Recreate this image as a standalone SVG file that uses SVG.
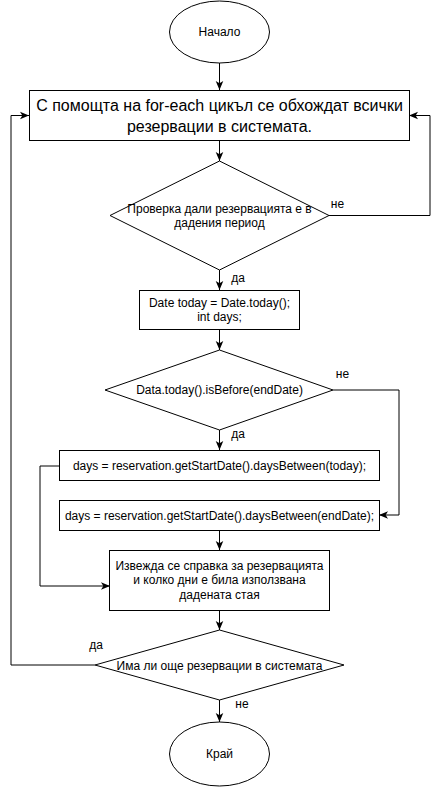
<svg xmlns="http://www.w3.org/2000/svg" width="440" height="788" viewBox="0 0 440 788">
<style>
.s{fill:#fff;stroke:#000;stroke-width:1}
.t{font-family:"Liberation Sans",Arial,sans-serif;font-size:12px;fill:#000;text-anchor:middle;dominant-baseline:central}
.big{font-size:16px}
.c{fill:none;stroke:#000;stroke-width:1}
</style>
<defs>
<marker id="a" viewBox="0 0 10 10" refX="10" refY="5" markerWidth="9" markerHeight="9" markerUnits="userSpaceOnUse" orient="auto">
<path d="M0,0.8 L10,5 L0,9.2 L2.6,5 Z" fill="#000"/>
</marker>
</defs>
<g id="connectors">
<path class="c" d="M219.5,63 V90" marker-end="url(#a)"/>
<path class="c" d="M219.5,141 V161" marker-end="url(#a)"/>
<path class="c" d="M219.5,270 V290" marker-end="url(#a)"/>
<path class="c" d="M219.5,330 V350" marker-end="url(#a)"/>
<path class="c" d="M219.5,430 V450" marker-end="url(#a)"/>
<path class="c" d="M219.5,530 V550" marker-end="url(#a)"/>
<path class="c" d="M219.5,610 V630" marker-end="url(#a)"/>
<path class="c" d="M219.5,700 V722" marker-end="url(#a)"/>
<path class="c" d="M329,215.5 H430 V115.5 H409" marker-end="url(#a)"/>
<path class="c" d="M333,390 H399 V515 H379" marker-end="url(#a)"/>
<path class="c" d="M59,466 H40 V586 H110" marker-end="url(#a)"/>
<path class="c" d="M95,665 H11 V115.5 H29" marker-end="url(#a)"/>
<text class="t" x="337.5" y="204">не</text>
<text class="t" x="238" y="278">да</text>
<text class="t" x="342.5" y="374">не</text>
<text class="t" x="238" y="434">да</text>
<text class="t" x="96" y="645">да</text>
<text class="t" x="242" y="704">не</text>
</g>
<g id="start">
<ellipse class="s" cx="219.5" cy="32" rx="50" ry="31"/>
<text class="t" x="219.5" y="32">Начало</text>
</g>
<g id="loop">
<rect class="s" x="29.5" y="90.5" width="380" height="50"/>
<text class="t big" x="219.5" y="105">С помощта на for-each цикъл се обхождат всички</text>
<text class="t big" x="219.5" y="126.5">резервации в системата.</text>
</g>
<g id="check-period">
<path class="s" d="M219.5,161 L329,215.5 L219.5,270 L110,215.5 Z"/>
<text class="t" x="219.5" y="208.5">Проверка дали резервацията е в</text>
<text class="t" x="219.5" y="223">дадения период</text>
</g>
<g id="init">
<rect class="s" x="139.5" y="290.5" width="160" height="39"/>
<text class="t" x="219.5" y="303">Date today = Date.today();</text>
<text class="t" x="219.5" y="317">int days;</text>
</g>
<g id="is-before">
<path class="s" d="M219.5,350 L333,390 L219.5,430 L105,390 Z"/>
<text class="t" x="219.5" y="390">Data.today().isBefore(endDate)</text>
</g>
<g id="days-today">
<rect class="s" x="59.5" y="450.5" width="320" height="30"/>
<text class="t" x="219.5" y="465.5">days = reservation.getStartDate().daysBetween(today);</text>
</g>
<g id="days-end">
<rect class="s" x="59.5" y="500.5" width="320" height="30"/>
<text class="t" x="219.5" y="515.5">days = reservation.getStartDate().daysBetween(endDate);</text>
</g>
<g id="report">
<rect class="s" x="109.5" y="550.5" width="220" height="60"/>
<text class="t" x="219.5" y="565.5">Извежда се справка за резервацията</text>
<text class="t" x="219.5" y="580">и колко дни е била използвана</text>
<text class="t" x="219.5" y="594.5">дадената стая</text>
</g>
<g id="more">
<path class="s" d="M219.5,630 L344,665 L219.5,700 L95,665 Z"/>
<text class="t" x="219.5" y="665.5">Има ли още резервации в системата</text>
</g>
<g id="end">
<ellipse class="s" cx="219.5" cy="754" rx="50" ry="32"/>
<text class="t" x="219.5" y="754">Край</text>
</g>
</svg>
